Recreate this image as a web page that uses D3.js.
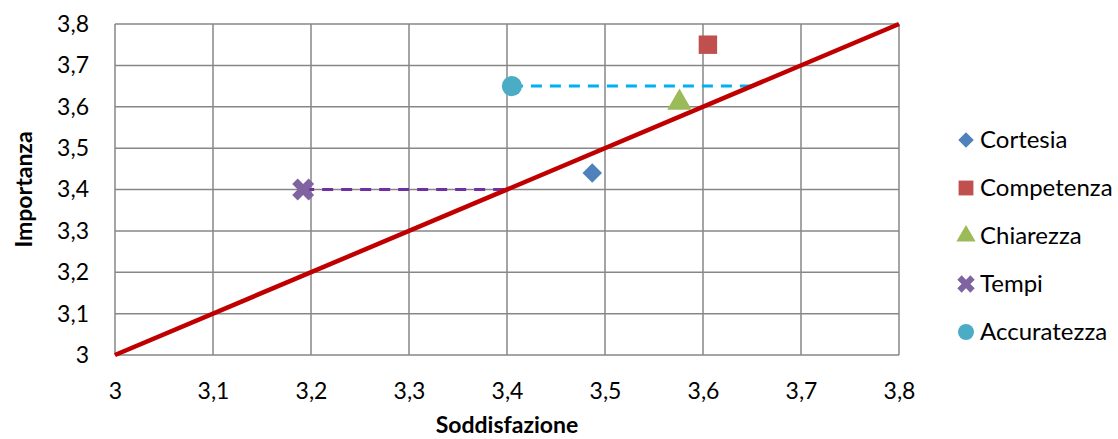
<!DOCTYPE html>
<html>
<head>
<meta charset="utf-8">
<script src="https://cdn.jsdelivr.net/npm/d3@7"></script>
<style>
  body { margin: 0; background: #fff; }
  svg { font-family: Lato, "Open Sans", sans-serif; }
</style>
</head>
<body>
<svg id="chart" width="1118" height="439"></svg>
<script>
// data
var categories = ["Cortesia", "Competenza", "Chiarezza", "Tempi", "Accuratezza"];
var soddisfazione = [3.487, 3.605, 3.576, 3.192, 3.405];
var importanza = [3.44, 3.75, 3.61, 3.40, 3.65];
var colori = ["#4F81BD", "#C0504D", "#9BBB59", "#8064A2", "#4BACC6"];
var simboli = [d3.symbolSquare, d3.symbolSquare, d3.symbolTriangle, d3.symbolCross, d3.symbolCircle];
var tickValues = [3, 3.1, 3.2, 3.3, 3.4, 3.5, 3.6, 3.7, 3.8];
// diagonal and dashed guide lines
var diagonale = [[3, 3], [3.8, 3.8]];
var guide = [
    { punti: [[3.192, 3.40], [3.40, 3.40]], colore: "#7030A0" },
    { punti: [[3.405, 3.65], [3.65, 3.65]], colore: "#00B0F0" }
];

var svg = d3.select("#chart"),
    margin = { top: 24, right: 219, bottom: 84, left: 115 },
    width = 1118 - margin.left - margin.right,
    height = 439 - margin.top - margin.bottom,
    g = svg.append("g").attr("transform", "translate(" + margin.left + "," + margin.top + ")");

var x = d3.scaleLinear().domain([3, 3.8]).range([0, width]);
var y = d3.scaleLinear().domain([3, 3.8]).range([height, 0]);
var fmt = function (d) { return String(+d.toFixed(1)).replace(".", ","); };

// grid
g.append("g").selectAll("line").data(tickValues).enter().append("line")
    .attr("x1", function (d) { return x(d); }).attr("x2", function (d) { return x(d); })
    .attr("y1", 0).attr("y2", height)
    .attr("stroke", "#878787").attr("stroke-width", 1.5);
g.append("g").selectAll("line").data(tickValues).enter().append("line")
    .attr("y1", function (d) { return y(d); }).attr("y2", function (d) { return y(d); })
    .attr("x1", 0).attr("x2", width)
    .attr("stroke", "#878787").attr("stroke-width", 1.5);

// axes (labels only)
var xAxis = g.append("g")
    .attr("transform", "translate(0," + height + ")")
    .call(d3.axisBottom(x).tickValues(tickValues).tickFormat(fmt).tickSize(0).tickPadding(28));
var yAxis = g.append("g")
    .call(d3.axisLeft(y).tickValues(tickValues).tickFormat(fmt).tickSize(0).tickPadding(26));
[xAxis, yAxis].forEach(function (a) {
    a.select(".domain").remove();
    a.attr("font-size", null).attr("font-family", null);
    a.selectAll("text").style("font-size", "23px").attr("fill", "#000");
});

var line = d3.line().x(function (d) { return x(d[0]); }).y(function (d) { return y(d[1]); });

// dashed guides
guide.forEach(function (gd) {
    g.append("path").attr("d", line(gd.punti))
        .attr("fill", "none").attr("stroke", gd.colore)
        .attr("stroke-width", 3).attr("stroke-dasharray", "11,8");
});

// diagonal
g.append("path").attr("d", line(diagonale))
    .attr("fill", "none").attr("stroke", "#C00000").attr("stroke-width", 4.5);

// markers
var sizes = [190, 340, 260, 300, 320];
g.append("g").selectAll("path").data(categories).enter().append("path")
    .attr("transform", function (d, i) {
        var r = (i === 0 || i === 3) ? 45 : 0;
        return "translate(" + x(soddisfazione[i]) + "," + y(importanza[i]) + ") rotate(" + r + ")";
    })
    .attr("d", function (d, i) { return d3.symbol().type(simboli[i]).size(sizes[i])(); })
    .attr("fill", function (d, i) { return colori[i]; });

// axis titles
svg.append("text")
    .attr("x", margin.left + width / 2).attr("y", 433)
    .attr("text-anchor", "middle").style("font-size", "23px").attr("font-weight", "bold")
    .text("Soddisfazione");
svg.append("text")
    .attr("transform", "translate(32," + (margin.top + height / 2) + ") rotate(-90)")
    .attr("text-anchor", "middle").style("font-size", "23px").attr("font-weight", "bold")
    .text("Importanza");

// legend
var legend = svg.append("g").selectAll("g").data(categories).enter().append("g")
    .attr("transform", function (d, i) { return "translate(966," + (140 + i * 48) + ")"; });
legend.append("path")
    .attr("transform", function (d, i) { return (i === 0 || i === 3) ? "rotate(45)" : null; })
    .attr("d", function (d, i) { return d3.symbol().type(simboli[i]).size([120, 220, 160, 190, 200][i])(); })
    .attr("fill", function (d, i) { return colori[i]; });
legend.append("text")
    .attr("x", 14).attr("dy", "0.35em")
    .style("font-size", "24px")
    .text(function (d) { return d; });
</script>
</body>
</html>
